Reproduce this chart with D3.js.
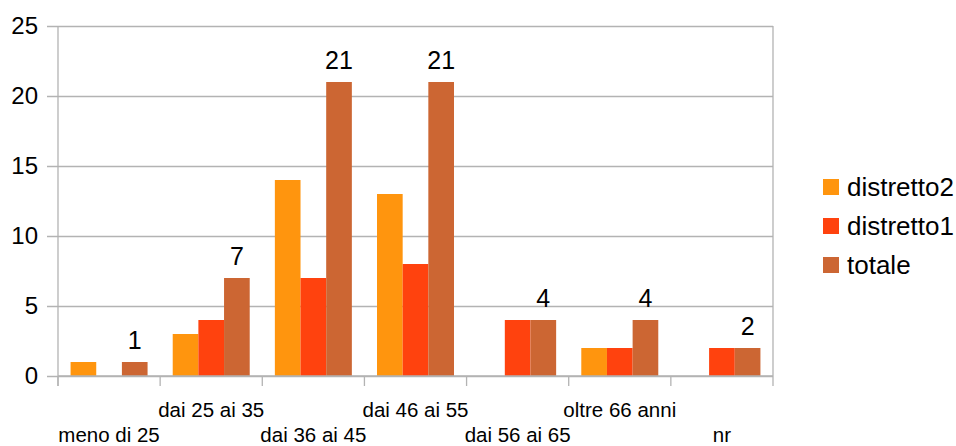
<!DOCTYPE html>
<html>
<head>
<meta charset="utf-8">
<script src="https://cdn.jsdelivr.net/npm/d3@7/dist/d3.min.js"></script>
<style>
  html, body { margin: 0; padding: 0; background: #fff; }
  svg { display: block; font-family: "Liberation Sans", Arial, sans-serif; }
</style>
</head>
<body>
<svg id="chart" width="956" height="446"></svg>
<script>
// Age groups (x axis)
const categories = ["meno di 25", "dai 25 ai 35", "dai 36 ai 45", "dai 46 ai 55", "dai 56 ai 65", "oltre 66 anni", "nr"];
// Series
const seriesNames = ["distretto2", "distretto1", "totale"];
const distretto2 = [1, 3, 14, 13, 0, 2, 0];
const distretto1 = [0, 4, 7, 8, 4, 2, 2];
const totale = [1, 7, 21, 21, 4, 4, 2];
const yTicks = [0, 5, 10, 15, 20, 25];
const seriesColors = ["#ff950e", "#ff420e", "#cc6633"];

const seriesValues = [distretto2, distretto1, totale];

const svg = d3.select("#chart");
const plotLeft = 58, plotRight = 773, plotTop = 26, plotBottom = 376;

const x = d3.scaleBand().domain(categories).range([plotLeft, plotRight]).paddingInner(0).paddingOuter(0);
const inner = d3.scaleBand().domain(seriesNames).range([0, x.bandwidth()]).paddingInner(0).paddingOuter(0.49);
const y = d3.scaleLinear().domain([0, 25]).range([plotBottom, plotTop]);

const gridColor = "#b3b3b3";

// horizontal gridlines + y axis labels
const yAxis = d3.axisLeft(y).tickValues(yTicks).tickSize(-(plotRight - plotLeft)).tickSizeOuter(0).tickPadding(10);
const gy = svg.append("g").attr("transform", `translate(${plotLeft},0)`).call(yAxis);
gy.select(".domain").remove();
gy.selectAll(".tick line").attr("stroke", gridColor).attr("stroke-width", 1.3).attr("x1", -11);
gy.selectAll(".tick text").attr("font-size", 24).attr("fill", "#000").attr("x", -20)
  .attr("font-family", "Liberation Sans, Arial, sans-serif");

// vertical axis line on the left and right frame
svg.append("line").attr("x1", plotLeft).attr("x2", plotLeft).attr("y1", plotTop).attr("y2", plotBottom + 10)
  .attr("stroke", gridColor).attr("stroke-width", 1.3);
svg.append("line").attr("x1", plotRight).attr("x2", plotRight).attr("y1", plotTop).attr("y2", plotBottom)
  .attr("stroke", gridColor).attr("stroke-width", 1.3);

// bars
const groups = svg.append("g").selectAll("g")
  .data(categories)
  .join("g")
  .attr("transform", d => `translate(${x(d)},0)`);

groups.selectAll("rect")
  .data((d, i) => seriesNames.map((s, k) => ({ s, k, v: seriesValues[k][i] })))
  .join("rect")
  .attr("x", d => inner(d.s))
  .attr("width", inner.bandwidth())
  .attr("y", d => y(d.v))
  .attr("height", d => y(0) - y(d.v))
  .attr("fill", d => seriesColors[d.k]);

// value labels above the totale bars
groups.append("text")
  .datum((d, i) => totale[i])
  .attr("x", inner("totale") + inner.bandwidth() / 2)
  .attr("y", d => y(d) - 13)
  .attr("text-anchor", "middle")
  .attr("font-size", 25)
  .attr("fill", "#000")
  .text(d => d);

// x axis with ticks at category boundaries
const boundaries = categories.map(c => x(c)).concat([plotRight]);
svg.append("line").attr("x1", plotLeft).attr("x2", plotRight).attr("y1", plotBottom).attr("y2", plotBottom)
  .attr("stroke", gridColor).attr("stroke-width", 1.3);
svg.append("g").selectAll("line").data(boundaries).join("line")
  .attr("x1", d => d).attr("x2", d => d).attr("y1", plotBottom).attr("y2", plotBottom + 10)
  .attr("stroke", gridColor).attr("stroke-width", 1.3);

// staggered category labels
svg.append("g").selectAll("text").data(categories).join("text")
  .attr("x", d => x(d) + x.bandwidth() / 2)
  .attr("y", (d, i) => i % 2 === 1 ? 417 : 442)
  .attr("text-anchor", "middle")
  .attr("font-size", 20.5)
  .attr("fill", "#000")
  .text(d => d);

// legend
const legend = svg.append("g").selectAll("g").data(seriesNames).join("g")
  .attr("transform", (d, i) => `translate(823,${187 + i * 39})`);
legend.append("rect").attr("x", 0).attr("y", -8).attr("width", 16).attr("height", 16)
  .attr("fill", (d, i) => seriesColors[i]);
legend.append("text").attr("x", 24).attr("y", 9).attr("font-size", 26).attr("fill", "#000").text(d => d);
</script>
</body>
</html>
